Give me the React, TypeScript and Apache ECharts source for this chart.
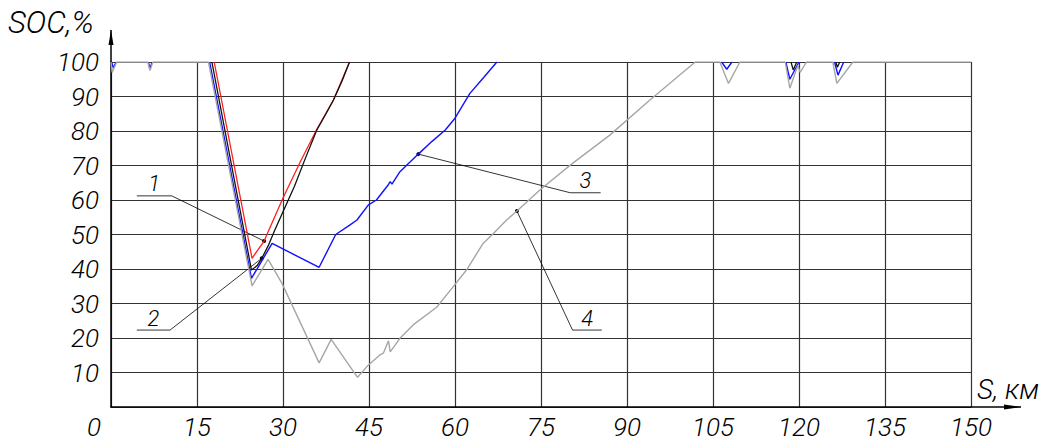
import React, { useEffect, useRef } from "react";
import * as echarts from "echarts";

const FONT = "Roboto, 'DejaVu Sans Condensed', sans-serif";
const FONT_WEIGHT = 300;

const xAxisTitle = "S, км";
const yAxisTitle = "SOC,%";
const xMin = 0, xMax = 150, xStep = 15;
const yMin = 0, yMax = 100, yStep = 10;

// null = break in the line
const redCurve: ([number, number] | null)[] = [
  [18.0, 100], [24.6, 43.1], [26.7, 48.1], [30, 60.6], [33, 71], [35.9, 80.5], [38.8, 89], [41.6, 100],
];
const blackCurve: ([number, number] | null)[] = [
  [17.6, 100], [24.5, 39.7], [25.5, 41], [26.3, 43.1], [27.5, 47], [28.5, 51], [30, 56.6], [32, 64],
  [34, 72.5], [35.9, 80.3], [37.5, 85], [38.8, 89], [40.3, 94.5], [41.6, 100],
  null, [118.6, 100], [119, 97.7], [119.6, 100],
  null, [126.4, 100], [126.7, 98.5], [127.1, 100],
];
const blueCurve: ([number, number] | null)[] = [
  [0.1, 100], [0.4, 98.3], [0.9, 100], null,
  [6.5, 100], [6.8, 98.2], [7.2, 100], null,
  [17.2, 100], [24.5, 37.3], [28.1, 47.4], [36.3, 40.5], [39.2, 50], [41.7, 52.8], [42.9, 54.2],
  [44.9, 58.6], [46.3, 60], [48.4, 64.5], [48.7, 65.3], [49.0, 64.6], [50.4, 68.2], [53.6, 73.3],
  [56, 77], [58.3, 80.3], [60, 83.7], [62.6, 90.9], [65, 95.5], [67.3, 100],
  null, [106.5, 100], [107.4, 97.9], [108.3, 100],
  null, [117.7, 100], [118.4, 95], [120, 100],
  null, [126.2, 100], [126.8, 96.2], [127.8, 100],
];
const grayCurve: ([number, number] | null)[] = [
  [0, 100], [0.2, 97], [1.0, 100], [6.4, 100], [6.8, 97.5], [7.3, 100],
  [17.0, 100], [24.6, 35.1], [27.4, 42.8], [29.8, 35.9], [36.3, 12.8], [38.4, 19.6], [43, 8.6],
  [44.9, 12.2], [46.9, 15.1], [47.5, 15.6], [48.4, 19.2], [48.7, 16], [50.4, 19.9], [52.7, 23.8],
  [56.8, 28.9], [59.7, 34.9], [62, 39.7], [64.9, 47.4], [66.7, 50.3], [69, 54.2], [70.8, 56.8],
  [74.8, 62.9], [80.1, 70.1], [87, 78.8], [94, 89], [101.9, 100],
  [106.2, 100], [107.7, 93.8], [109.7, 100],
  [117.6, 100], [118.4, 92.4], [119.8, 99], [120.2, 97], [121.3, 100],
  [125.9, 100], [126.6, 93.8], [129.4, 100], [150, 100],
];

// callouts: label, anchor point on the curve, shelf [xLeft, xRight, y], leader joins shelf at right end?
const calloutLabels = ["1", "2", "3", "4"];
const calloutAnchors: [number, number][] = [[26.7, 48.1], [26.3, 43.1], [53.6, 73.3], [70.8, 56.8]];
const calloutShelves: [number, number, number][] = [[4.5, 10.6, 61.2], [4.5, 10.3, 22.3], [80.1, 85.4, 62.1], [80.5, 85.6, 22.3]];
const calloutJoinRight = [true, true, false, false];

const toData = (arr: ([number, number] | null)[]) => arr.map((p) => (p ? p : ["-", "-"]));

const labelStyle = { fontFamily: FONT, fontStyle: "italic" as const, fontWeight: FONT_WEIGHT, fontSize: 26, color: "#000" };

export default function App() {
  const ref = useRef<HTMLDivElement>(null);
  useEffect(() => {
    if (!ref.current) return;
    const chart = echarts.init(ref.current, undefined, { renderer: "svg" });
    const mkSeries = (name: string, data: any[], color: string, width: number) => ({
      name, type: "line", data: toData(data), showSymbol: false, symbol: "none",
      connectNulls: false, lineStyle: { color, width }, itemStyle: { color }, z: 3,
    });
    chart.setOption({
      animation: false,
      grid: { left: 111, right: 77, top: 62, bottom: 36 },
      xAxis: {
        type: "value", min: xMin, max: xMax, interval: xStep,
        axisLine: { show: true, lineStyle: { color: "#000", width: 1.5 } },
        axisTick: { show: false },
        splitLine: { show: true, lineStyle: { color: "#333", width: 1.2 } },
        axisLabel: {
          ...labelStyle, margin: 7, showMinLabel: true, showMaxLabel: true,
          formatter: (v: number) => (v === 0 ? "{z|0}" : String(v)),
          rich: { z: { ...labelStyle, padding: [0, 34, 0, 0] } },
        },
      },
      yAxis: {
        type: "value", min: yMin, max: yMax, interval: yStep,
        axisLine: { show: true, lineStyle: { color: "#000", width: 1.5 } },
        axisTick: { show: false },
        splitLine: { show: true, lineStyle: { color: "#333", width: 1.2 } },
        axisLabel: { ...labelStyle, margin: 12, formatter: (v: number) => (v === 0 ? "" : String(v)) },
      },
      series: [
        mkSeries("1", redCurve, "#ff2020", 1.3),
        mkSeries("2", blackCurve, "#111111", 1.3),
        mkSeries("3", blueCurve, "#1010ff", 1.4),
        mkSeries("4", grayCurve, "#a6a6a6", 1.4),
      ],
    });

    const px = (p: [number, number]) => chart.convertToPixel({ gridIndex: 0 }, p) as number[];
    const origin = px([xMin, yMin]);
    const yTop = px([xMin, yMax]);
    const xEnd = px([xMax, yMin]);
    const yArrowTip = yTop[1] - 32;
    const xArrowTip = xEnd[0] + 50;
    const txt = (text: string, size: number) => ({ text, fontFamily: FONT, fontStyle: "italic", fontWeight: FONT_WEIGHT, fontSize: size, fill: "#000" });
    const g: any[] = [
      { type: "line", shape: { x1: origin[0], y1: yTop[1], x2: origin[0], y2: yArrowTip }, style: { stroke: "#000", lineWidth: 1.5 } },
      { type: "polygon", shape: { points: [[origin[0], yArrowTip], [origin[0] - 2.5, yArrowTip + 15], [origin[0] + 2.5, yArrowTip + 15]] }, style: { fill: "#000" } },
      { type: "line", shape: { x1: xEnd[0], y1: origin[1], x2: xArrowTip, y2: origin[1] }, style: { stroke: "#000", lineWidth: 1.5 } },
      { type: "polygon", shape: { points: [[xArrowTip, origin[1]], [xArrowTip - 17, origin[1] - 2.5], [xArrowTip - 17, origin[1] + 2.5]] }, style: { fill: "#000" } },
      { type: "text", x: 8, y: yArrowTip - 8, style: { ...txt(yAxisTitle, 31), textVerticalAlign: "middle" } },
      { type: "text", x: xEnd[0] + 6, y: origin[1] - 4, style: { ...txt(xAxisTitle, 28), textVerticalAlign: "bottom" } },
    ];
    calloutLabels.forEach((lab, i) => {
      const a = px(calloutAnchors[i]);
      const [sx1, sx2, sy] = calloutShelves[i];
      const l = px([sx1, sy]);
      const r = px([sx2, sy]);
      const join = calloutJoinRight[i] ? r : l;
      g.push({ type: "line", shape: { x1: a[0], y1: a[1], x2: join[0], y2: join[1] }, style: { stroke: "#000", lineWidth: 0.8 } });
      g.push({ type: "line", shape: { x1: l[0], y1: l[1], x2: r[0], y2: r[1] }, style: { stroke: "#000", lineWidth: 0.8 } });
      g.push({ type: "circle", shape: { cx: a[0], cy: a[1], r: 2 }, style: { fill: "#000" } });
      g.push({ type: "text", x: (l[0] + r[0]) / 2, y: l[1] - 1, style: { ...txt(lab, 22), textAlign: "center", textVerticalAlign: "bottom" } });
    });
    chart.setOption({ graphic: g });
    return () => chart.dispose();
  }, []);
  return (
    <div ref={ref} style={{ position: "fixed", left: 0, top: 0, width: 1048, height: 443, background: "#fff" }} />
  );
}
